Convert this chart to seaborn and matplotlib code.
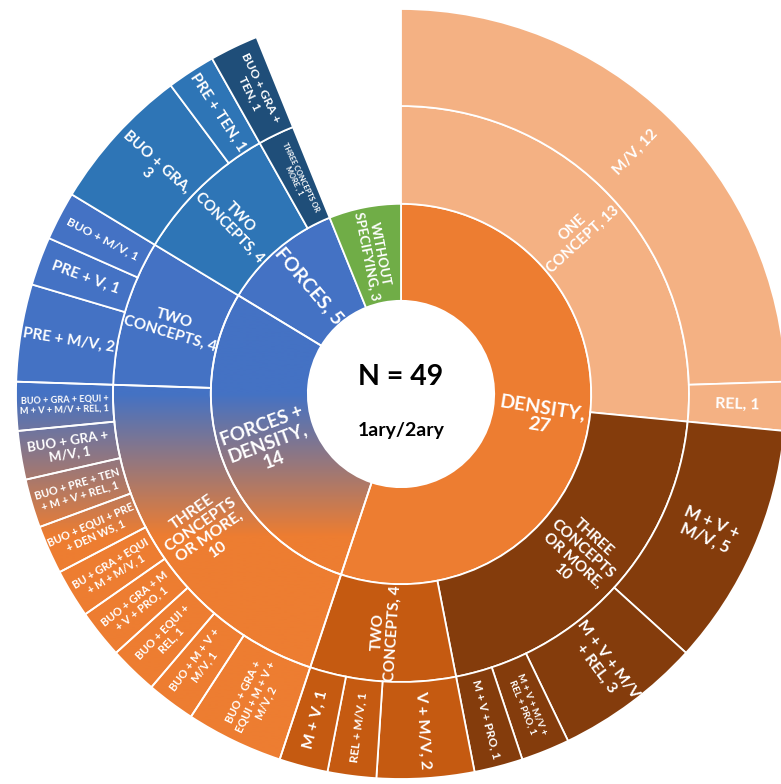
import numpy as np
import matplotlib
matplotlib.use("Agg")
import matplotlib.pyplot as plt
import seaborn as sns

# ---- hierarchy (clockwise from 12 o'clock) ----
level1_labels = ["DENSITY,\n{n}", "FORCES +\nDENSITY,\n{n}", "FORCES, {n}", "WITHOUT\nSPECIFYING, {n}"]
level1_counts = [27, 14, 5, 3]

level2_parent = [0, 0, 0, 1, 1, 2, 2]
level2_labels = ["ONE\nCONCEPT, {n}", "THREE\nCONCEPTS\nOR MORE,\n{n}", "TWO\nCONCEPTS, {n}",
                 "THREE\nCONCEPTS\nOR MORE,\n{n}", "TWO\nCONCEPTS, {n}",
                 "TWO\nCONCEPTS, {n}", "THREE CONCEPTS OR\nMORE , {n}"]
level2_counts = [13, 10, 4, 10, 4, 4, 1]

level3_parent = [0, 0,
                 1, 1, 1, 1,
                 2, 2, 2,
                 3, 3, 3, 3, 3, 3, 3, 3, 3,
                 4, 4, 4,
                 5, 5,
                 6]
level3_labels = ["M/V, {n}", "REL, {n}",
                 "M + V +\nM/V, {n}", "M + V + M/V\n+ REL, {n}", "M + V + M/V +\nREL + PRO, {n}", "M + V + PRO, {n}",
                 "V + M/V, {n}", "REL + M/V, {n}", "M + V, {n}",
                 "BUO + GRA +\nEQUI + M + V +\nM/V, {n}", "BUO + M + V +\nM/V, {n}", "BUO + EQUI +\nREL, {n}",
                 "BUO + GRA + M\n+ V + PRO, {n}", "BU + GRA + EQUI\n+ M + M/V, {n}", "BUO + EQUI + PRE\n+ DEN WS, {n}",
                 "BUO + PRE + TEN\n+ M + V + REL, {n}", "BUO + GRA +\nM/V, {n}", "BUO + GRA + EQUI +\nM + V + M/V + REL, {n}",
                 "PRE + M/V, {n}", "PRE + V, {n}", "BUO + M/V, {n}",
                 "BUO + GRA,\n{n}", "PRE + TEN, {n}",
                 "BUO + GRA +\nTEN, {n}"]
level3_counts = [12, 1,
                 5, 3, 1, 1,
                 2, 1, 1,
                 2, 1, 1, 1, 1, 1, 1, 1, 1,
                 2, 1, 1,
                 3, 1,
                 1]

center_title = "N = {n}"
center_subtitle = "1ary/2ary"

# ---- styling ----
BLUE, ORANGE = "#4472C4", "#ED7D31"
GRADIENT = "gradient"
level1_colors = [ORANGE, GRADIENT, BLUE, "#70AD47"]
level2_colors = ["#F4B183", "#843C0C", "#C55A11", GRADIENT, BLUE, "#2E75B6", "#1F4E79"]
level1_sizes = [14, 13.5, 14, 9.5]
level2_sizes = [10.5, 11, 11, 11.5, 11, 10.5, 5.3]
level3_sizes = [11, 11.5,
                12, 11.5, 7, 8.5,
                11.5, 8.5, 11.5,
                8, 8, 8, 8, 7.8, 7.8, 7.8, 9.5, 6.6,
                11, 11, 8.8,
                11, 11,
                8.8]

sns.set_theme(style="white")
plt.rcParams["font.family"] = ["Lato", "DejaVu Sans"]
gradient_cmap = sns.blend_palette([BLUE, ORANGE], n_colors=256, as_cmap=True)

R_HOLE, R1, R2, R3 = 0.242, 0.494, 0.748, 1.0
total = sum(level1_counts)
blank = level1_counts[3]  # leaf at the first level: nothing beyond it

fig = plt.figure(figsize=(7.81, 7.84), dpi=100, facecolor="white")
ax = fig.add_axes([0, 0, 1, 1])

edge = dict(edgecolor="white", linewidth=1.3)


def ring(values, colors, r_out, r_in, with_blank):
    vals = list(values) + ([blank] if with_blank else [])
    cols = [("white" if c == GRADIENT else c) for c in colors] + (["white"] if with_blank else [])
    wedges, _ = ax.pie(vals, radius=r_out, colors=cols, startangle=90, counterclock=False,
                       wedgeprops=dict(width=r_out - r_in, **edge))
    if with_blank:
        wedges[-1].set_visible(False)
    return wedges[:len(values)]


def add_gradient(wedge):
    ys = np.linspace(-1.05, 1.05, 600)
    t = np.clip((0.0 - ys) / 0.37, 0, 1)
    img = t.reshape(-1, 1)
    im = ax.imshow(img, cmap=gradient_cmap, vmin=0, vmax=1, origin="lower",
                   extent=(-1.05, 1.05, -1.05, 1.05), aspect="auto", zorder=wedge.get_zorder() - 0.01,
                   interpolation="bilinear")
    im.set_clip_path(wedge)
    wedge.set_facecolor("none")
    wedge.set_zorder(wedge.get_zorder() + 0.02)


def label_ring(values, templates, sizes, r_in, r_out):
    start = 0.0
    for v, tpl, fs in zip(values, templates, sizes):
        mid = (start + v / 2) / total * 360.0
        start += v
        rot = 90.0 - mid
        while rot <= -90:
            rot += 180
        while rot > 90:
            rot -= 180
        r = (r_in + r_out) / 2
        a = np.deg2rad(90.0 - mid)
        ax.text(r * np.cos(a), r * np.sin(a), tpl.format(n=v), rotation=rot, rotation_mode="anchor",
                ha="center", va="center", multialignment="center", color="white",
                fontsize=fs, fontweight="bold", linespacing=1.12, zorder=10)


l3_colors = [level2_colors[p] for p in level3_parent]

w1 = ring(level1_counts, level1_colors, R1, R_HOLE, False)
w2 = ring(level2_counts, level2_colors, R2, R1, True)
w3 = ring(level3_counts, l3_colors, R3, R2, True)

for wedges, cols in ((w1, level1_colors), (w2, level2_colors), (w3, l3_colors)):
    for w, c in zip(wedges, cols):
        if c == GRADIENT:
            add_gradient(w)

label_ring(level1_counts, level1_labels, level1_sizes, R_HOLE, R1)
label_ring(level2_counts, level2_labels, level2_sizes, R1, R2)
label_ring(level3_counts, level3_labels, level3_sizes, R2, R3)

ax.text(0, 0.044, center_title.format(n=total), ha="center", va="center", fontsize=20.5,
        fontweight="bold", color="black", zorder=10)
ax.text(0, -0.094, center_subtitle, ha="center", va="center", fontsize=14,
        fontweight="bold", color="black", zorder=10)

ax.set_xlim(-401 / 385, 380 / 385)
ax.set_ylim(-390 / 385, 394 / 385)
ax.set_aspect("auto")
ax.axis("off")

fig.savefig("out.png", dpi=100, facecolor="white")
